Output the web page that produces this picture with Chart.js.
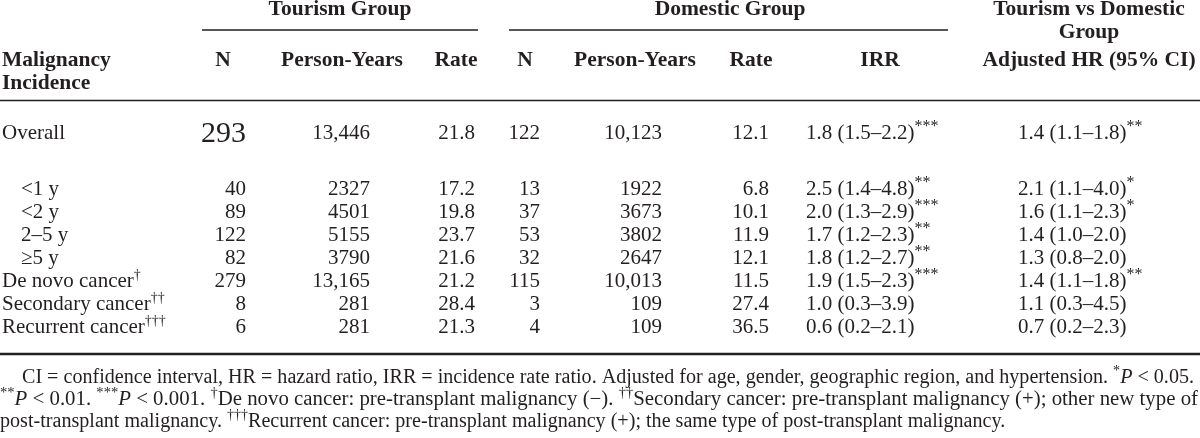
<!DOCTYPE html>
<html lang="en">
<head>
  <meta charset="UTF-8" />
  <title>Malignancy Incidence: Tourism vs Domestic Group</title>
  <script src="https://cdn.jsdelivr.net/npm/chart.js"></script>
  <style>
    body { margin: 0; background: #fff; }
    canvas { display: block; }
  </style>
</head>
<body>
  <canvas id="tableChart" width="1200" height="438"></canvas>
  <script>
    // table values, one array per column
    const rowLabels = ['Overall', '<1 y', '<2 y', '2\u20135 y', '\u22655 y', 'De novo cancer', 'Secondary cancer', 'Recurrent cancer'];
    const rowMarks = ['', '', '', '', '', '\u2020', '\u2020\u2020', '\u2020\u2020\u2020'];
    const tourN = [293, 40, 89, 122, 82, 279, 8, 6];
    const tourPY = [13446, 2327, 4501, 5155, 3790, 13165, 281, 281];
    const tourRate = [21.8, 17.2, 19.8, 23.7, 21.6, 21.2, 28.4, 21.3];
    const domN = [122, 13, 37, 53, 32, 115, 3, 4];
    const domPY = [10123, 1922, 3673, 3802, 2647, 10013, 109, 109];
    const domRate = [12.1, 6.8, 10.1, 11.9, 12.1, 11.5, 27.4, 36.5];
    const irr = [1.8, 2.5, 2.0, 1.7, 1.8, 1.9, 1.0, 0.6];
    const irrLow = [1.5, 1.4, 1.3, 1.2, 1.2, 1.5, 0.3, 0.2];
    const irrHigh = [2.2, 4.8, 2.9, 2.3, 2.7, 2.3, 3.9, 2.1];
    const irrSig = ['***', '**', '***', '**', '**', '***', '', ''];
    const hr = [1.4, 2.1, 1.6, 1.4, 1.3, 1.4, 1.1, 0.7];
    const hrLow = [1.1, 1.1, 1.1, 1.0, 0.8, 1.1, 0.3, 0.2];
    const hrHigh = [1.8, 4.0, 2.3, 2.0, 2.0, 1.8, 4.5, 2.3];
    const hrSig = ['**', '*', '*', '', '', '**', '', ''];

    const FONT = '"Liberation Serif", "Times New Roman", serif';
    const INK = '#231f20';

    function fmtInt(v) {
      return v >= 10000 ? v.toLocaleString('en-US') : String(v);
    }
    function fmtCI(v, lo, hi) {
      return v.toFixed(1) + ' (' + lo.toFixed(1) + '\u2013' + hi.toFixed(1) + ')';
    }

    // rich text: segments of {t, sup, it, b}
    function segFont(s, size) {
      let sz = s.sup ? s.supSize || Math.round(size * 0.7) : (s.size || size);
      return (s.it ? 'italic ' : '') + (s.b ? 'bold ' : '') + sz + 'px ' + FONT;
    }
    function richWidth(ctx, segs, size) {
      let w = 0;
      segs.forEach(s => { ctx.font = segFont(s, size); w += ctx.measureText(s.t).width; });
      return w;
    }
    function drawRich(ctx, segs, x, y, size, align, sx) {
      sx = sx || 1;
      const w = richWidth(ctx, segs, size) * sx;
      let cx = align === 'right' ? x - w : align === 'center' ? x - w / 2 : x;
      ctx.save();
      ctx.translate(cx, y);
      ctx.scale(sx, 1);
      let px = 0;
      ctx.textAlign = 'left';
      ctx.textBaseline = 'alphabetic';
      segs.forEach(s => {
        ctx.font = segFont(s, size);
        ctx.fillText(s.t, px, s.sup ? -size * 0.4 : 0);
        px += ctx.measureText(s.t).width;
      });
      ctx.restore();
    }

    const tablePlugin = {
      id: 'tableText',
      afterDraw(chart) {
        const ctx = chart.ctx;
        const xs = chart.scales.x, ys = chart.scales.y;
        const X = v => xs.getPixelForValue(v);
        const Y = v => ys.getPixelForValue(v);
        ctx.save();
        ctx.fillStyle = INK;
        ctx.strokeStyle = INK;

        // header
        const hb = 21.5;
        const bold = t => [{ t: t, b: true }];
        drawRich(ctx, bold('Tourism Group'), X(340), Y(15), hb, 'center');
        drawRich(ctx, bold('Domestic Group'), X(730), Y(15), hb, 'center');
        drawRich(ctx, bold('Tourism vs Domestic'), X(1089), Y(15), hb, 'center');
        drawRich(ctx, bold('Group'), X(1089), Y(38), hb, 'center');
        drawRich(ctx, bold('Adjusted HR (95% CI)'), X(1089), Y(66), hb, 'center');
        drawRich(ctx, bold('Malignancy'), X(2), Y(66), hb, 'left');
        drawRich(ctx, bold('Incidence'), X(2), Y(89), hb, 'left');
        [['N', 223], ['Person-Years', 342], ['Rate', 456], ['N', 525], ['Person-Years', 635], ['Rate', 751], ['IRR', 880]]
          .forEach(h => drawRich(ctx, bold(h[0]), X(h[1]), Y(66), hb, 'center'));

        // rules
        ctx.lineWidth = 1.5;
        ctx.beginPath();
        ctx.moveTo(X(202), Y(30)); ctx.lineTo(X(478), Y(30));
        ctx.moveTo(X(509), Y(30)); ctx.lineTo(X(948), Y(30));
        ctx.moveTo(X(0), Y(100.5)); ctx.lineTo(X(1200), Y(100.5));
        ctx.stroke();
        ctx.lineWidth = 2.5;
        ctx.beginPath();
        ctx.moveTo(X(0), Y(354)); ctx.lineTo(X(1200), Y(354));
        ctx.stroke();

        // body rows
        const fs = 21;
        rowLabels.forEach((lab, i) => {
          const by = Y(i === 0 ? 139 : 195 + (i - 1) * 23);
          const lx = (i >= 1 && i <= 4) ? 21 : 2;
          const labSegs = [{ t: lab }];
          if (rowMarks[i]) labSegs.push({ t: rowMarks[i], sup: true, supSize: 14 });
          drawRich(ctx, labSegs, X(lx), by, fs, 'left');
          if (i === 0) {
            drawRich(ctx, [{ t: String(tourN[i]), size: 30 }], X(246), by + 3, fs, 'right');
          } else {
            drawRich(ctx, [{ t: String(tourN[i]) }], X(246), by, fs, 'right');
          }
          drawRich(ctx, [{ t: fmtInt(tourPY[i]) }], X(370), by, fs, 'right');
          drawRich(ctx, [{ t: tourRate[i].toFixed(1) }], X(475), by, fs, 'right');
          drawRich(ctx, [{ t: String(domN[i]) }], X(540), by, fs, 'right');
          drawRich(ctx, [{ t: fmtInt(domPY[i]) }], X(662), by, fs, 'right');
          drawRich(ctx, [{ t: domRate[i].toFixed(1) }], X(769), by, fs, 'right');
          const irrSegs = [{ t: fmtCI(irr[i], irrLow[i], irrHigh[i]) }];
          if (irrSig[i]) irrSegs.push({ t: irrSig[i], sup: true, supSize: 16 });
          drawRich(ctx, irrSegs, X(806), by, fs, 'left');
          const hrSegs = [{ t: fmtCI(hr[i], hrLow[i], hrHigh[i]) }];
          if (hrSig[i]) hrSegs.push({ t: hrSig[i], sup: true, supSize: 16 });
          drawRich(ctx, hrSegs, X(1018), by, fs, 'left');
        });

        // footnote
        const ff = 20;
        const line1 = [
          { t: 'CI = confidence interval, HR = hazard ratio, IRR = incidence rate ratio. Adjusted for age, gender, geographic region, and hypertension. ' },
          { t: '*', sup: true, supSize: 14 }, { t: 'P', it: true }, { t: ' < 0.05.' }
        ];
        const line2 = [
          { t: '**', sup: true, supSize: 14 }, { t: 'P', it: true }, { t: ' < 0.01. ' },
          { t: '***', sup: true, supSize: 14 }, { t: 'P', it: true }, { t: ' < 0.001. ' },
          { t: '\u2020', sup: true, supSize: 14 }, { t: 'De novo cancer: pre-transplant malignancy (\u2212). ' },
          { t: '\u2020\u2020', sup: true, supSize: 14 }, { t: 'Secondary cancer: pre-transplant malignancy (+); other new type of' }
        ];
        const line3 = [
          { t: 'post-transplant malignancy. ' },
          { t: '\u2020\u2020\u2020', sup: true, supSize: 14 }, { t: 'Recurrent cancer: pre-transplant malignancy (+); the same type of post-transplant malignancy.' }
        ];
        const s1 = (1194 - 22) / richWidth(ctx, line1, ff);
        const s2 = (1198 - 0) / richWidth(ctx, line2, ff);
        drawRich(ctx, line1, X(22), Y(383), ff, 'left', s1);
        drawRich(ctx, line2, X(0), Y(405), ff, 'left', s2);
        drawRich(ctx, line3, X(0), Y(427), ff, 'left', s1);
        ctx.restore();
      }
    };

    new Chart(document.getElementById('tableChart').getContext('2d'), {
      type: 'scatter',
      data: { datasets: [] },
      options: {
        responsive: false,
        animation: false,
        events: [],
        layout: { padding: 0 },
        plugins: { legend: { display: false }, tooltip: { enabled: false } },
        scales: {
          x: { type: 'linear', min: 0, max: 1200, display: false },
          y: { type: 'linear', min: 0, max: 438, reverse: true, display: false }
        }
      },
      plugins: [tablePlugin]
    });
  </script>
</body>
</html>
